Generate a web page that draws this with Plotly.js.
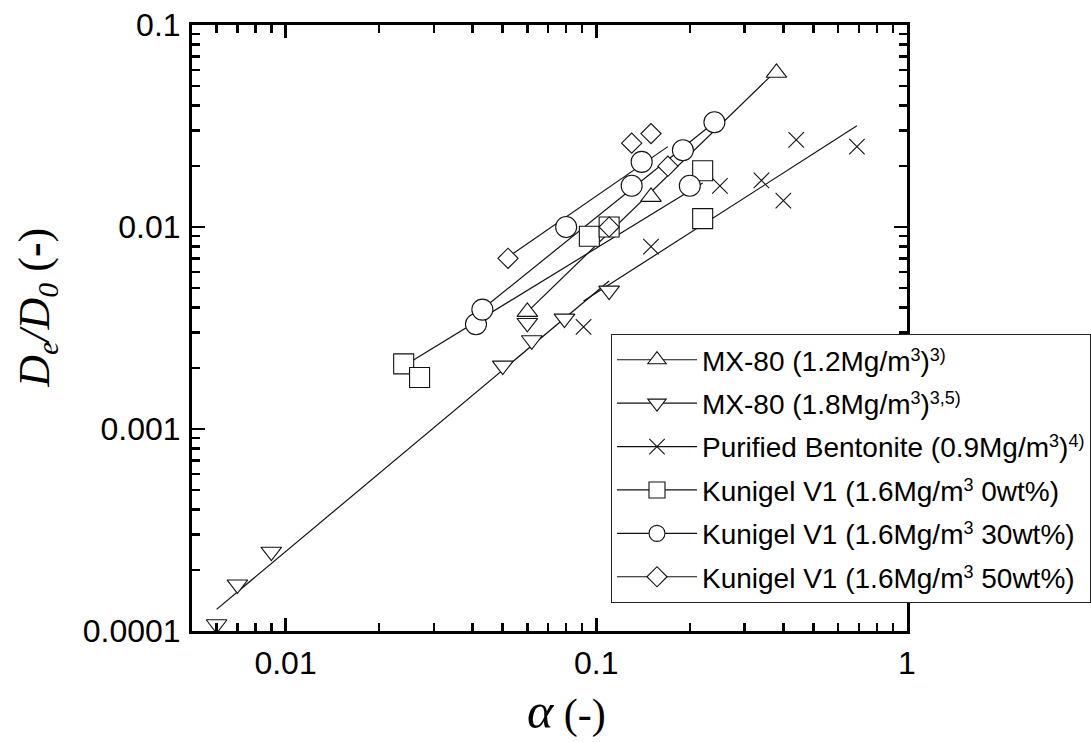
<!DOCTYPE html>
<html>
<head>
<meta charset="utf-8">
<script src="https://cdn.plot.ly/plotly-3.0.1.min.js"></script>
<style>
html, body { margin: 0; padding: 0; background: #ffffff; }
#chart { width: 1091px; height: 742px; }
</style>
</head>
<body>
<div id="chart"></div>
<script>
// ---- Series names (legend); raised small text is drawn with a sized span ----
const SUP = (t) => '<span style="font-size:18px;baseline-shift:10px">' + t + '</span>';
const seriesNames = [
  'MX-80 (1.2Mg/m' + SUP('3') + ')' + SUP('3)'),
  'MX-80 (1.8Mg/m' + SUP('3') + ')' + SUP('3,5)'),
  'Purified Bentonite (0.9Mg/m' + SUP('3') + ')' + SUP('4)'),
  'Kunigel V1 (1.6Mg/m' + SUP('3') + ' 0wt%)',
  'Kunigel V1 (1.6Mg/m' + SUP('3') + ' 30wt%)',
  'Kunigel V1 (1.6Mg/m' + SUP('3') + ' 50wt%)'
];

// ---- MX-80 (1.2 Mg/m3) ----
const mx12X = [0.060, 0.150, 0.380];
const mx12Y = [0.0038, 0.0141, 0.058];
const mx12FitX = [0.060, 0.380];
const mx12FitY = [0.0038, 0.0595];

// ---- MX-80 (1.8 Mg/m3) ----
const mx18X = [0.006, 0.007, 0.009, 0.050, 0.060, 0.062, 0.079, 0.110];
const mx18Y = [0.000108, 0.00017, 0.000247, 0.00206, 0.00335, 0.00275, 0.00352, 0.00484];
const mx18FitX = [0.006, 0.110];
const mx18FitY = [0.000128, 0.0054];

// ---- Purified Bentonite (0.9 Mg/m3) ----
const pbX = [0.091, 0.150, 0.250, 0.340, 0.400, 0.440, 0.690];
const pbY = [0.0032, 0.0080, 0.016, 0.017, 0.0135, 0.027, 0.025];
const pbFitX = [0.091, 0.690];
const pbFitY = [0.0043, 0.0317];

// ---- Kunigel V1 (1.6 Mg/m3, 0 wt%) ----
const k0X = [0.024, 0.027, 0.095, 0.110, 0.220, 0.220];
const k0Y = [0.0021, 0.0018, 0.0090, 0.0100, 0.0190, 0.0110];
const k0FitX = [0.024, 0.220];
const k0FitY = [0.00205, 0.0165];

// ---- Kunigel V1 (1.6 Mg/m3, 30 wt%) ----
const k30X = [0.041, 0.043, 0.080, 0.130, 0.140, 0.190, 0.200, 0.240];
const k30Y = [0.0033, 0.0039, 0.0100, 0.0160, 0.0210, 0.0240, 0.0160, 0.0330];
const k30FitX = [0.041, 0.240];
const k30FitY = [0.0037, 0.0330];

// ---- Kunigel V1 (1.6 Mg/m3, 50 wt%) ----
const k50X = [0.052, 0.110, 0.130, 0.150, 0.170];
const k50Y = [0.0070, 0.0100, 0.0260, 0.0290, 0.0200];
const k50FitX = [0.052, 0.170];
const k50FitY = [0.0071, 0.0250];

// ---- Axis ticks ----
const xTickVals = [0.01, 0.1, 1];
const xTickText = ['0.01', '0.1', '1'];
const xMinorVals = [0.006, 0.007, 0.008, 0.009, 0.02, 0.03, 0.04, 0.05, 0.06, 0.07, 0.08, 0.09,
                    0.2, 0.3, 0.4, 0.5, 0.6, 0.7, 0.8, 0.9];
const yTickVals = [0.0001, 0.001, 0.01, 0.1];
const yTickText = ['0.0001', '0.001', '0.01', '0.1'];
const yMinorVals = [0.0002, 0.0003, 0.0004, 0.0005, 0.0006, 0.0007, 0.0008, 0.0009,
                    0.002, 0.003, 0.004, 0.005, 0.006, 0.007, 0.008, 0.009,
                    0.02, 0.03, 0.04, 0.05, 0.06, 0.07, 0.08, 0.09];

// ---- Styles ----
const markerStyles = [
  {symbol: 'triangle-up', size: 18},
  {symbol: 'triangle-down', size: 18},
  {symbol: 'x-thin', size: 15.5},
  {symbol: 'square', size: 20},
  {symbol: 'circle', size: 21},
  {symbol: 'diamond', size: 15.5}
];
const series = [
  {x: mx12X, y: mx12Y, fx: mx12FitX, fy: mx12FitY},
  {x: mx18X, y: mx18Y, fx: mx18FitX, fy: mx18FitY},
  {x: pbX, y: pbY, fx: pbFitX, fy: pbFitY},
  {x: k0X, y: k0Y, fx: k0FitX, fy: k0FitY},
  {x: k30X, y: k30Y, fx: k30FitX, fy: k30FitY},
  {x: k50X, y: k50Y, fx: k50FitX, fy: k50FitY}
];

const ink = '#111111';
const traces = [];
// fit lines first (under markers)
series.forEach((s, i) => {
  traces.push({
    type: 'scatter', mode: 'lines', x: s.fx, y: s.fy,
    line: {color: ink, width: 1.2}, showlegend: false, hoverinfo: 'skip'
  });
});
// data markers
series.forEach((s, i) => {
  const ms = markerStyles[i];
  traces.push({
    type: 'scatter', mode: 'markers', x: s.x, y: s.y,
    marker: {symbol: ms.symbol, size: ms.size, color: '#ffffff',
             line: {color: ink, width: 1.1}},
    showlegend: false, hoverinfo: 'skip', cliponaxis: false
  });
});
// legend entries (line + symbol)
series.forEach((s, i) => {
  const ms = markerStyles[i];
  traces.push({
    type: 'scatter', mode: 'lines+markers', x: [null], y: [null],
    name: seriesNames[i], legendgroup: 'g' + i,
    line: {color: ink, width: 1.2},
    marker: {symbol: ms.symbol, size: ms.size, color: '#ffffff',
             line: {color: ink, width: 1.1}},
    hoverinfo: 'skip'
  });
});

const sansFont = '"Liberation Sans", Arial, sans-serif';
const serifFont = '"Liberation Serif", "Times New Roman", serif';

const axisCommon = {
  type: 'log',
  showline: true, linewidth: 3, linecolor: '#000000',
  mirror: 'allticks',
  ticks: 'inside', ticklen: 13, tickwidth: 2.5, tickcolor: '#000000',
  tickmode: 'array',
  showgrid: false, zeroline: false,
  automargin: false,
  tickfont: {family: sansFont, size: 32, color: '#000000'}
};

const layout = {
  width: 1091, height: 742,
  margin: {l: 192, r: 184, t: 25, b: 111, pad: 0, autoexpand: false},
  paper_bgcolor: '#ffffff', plot_bgcolor: '#ffffff',
  font: {family: sansFont, color: '#000000'},
  showlegend: true,
  xaxis: Object.assign({}, axisCommon, {
    range: [Math.log10(0.005), 0],
    tickvals: xTickVals, ticktext: xTickText,
    ticklabelstandoff: 2,
    minor: {ticks: 'inside', ticklen: 8, tickwidth: 2.5, tickcolor: '#000000',
            tickmode: 'array', tickvals: xMinorVals, showgrid: false}
  }),
  yaxis: Object.assign({}, axisCommon, {
    range: [-4, -1],
    tickvals: yTickVals, ticktext: yTickText,
    ticklabelstandoff: 2,
    minor: {ticks: 'inside', ticklen: 8, tickwidth: 2.5, tickcolor: '#000000',
            tickmode: 'array', tickvals: yMinorVals, showgrid: false}
  }),
  legend: {
    x: 0.586, y: 0.490, xanchor: 'left', yanchor: 'top',
    bgcolor: '#ffffff', bordercolor: '#222222', borderwidth: 1,
    font: {family: sansFont, size: 28, color: '#000000'},
    tracegroupgap: 4,
    itemwidth: 80,
    traceorder: 'grouped'
  },
  annotations: [
    {
      xref: 'paper', yref: 'paper', x: 0.524, y: -0.181,
      xanchor: 'center', yanchor: 'bottom', showarrow: false,
      text: '<i><span style="font-size:50px">α</span></i> (-)',
      font: {family: serifFont, size: 42, color: '#000000'}
    },
    {
      xref: 'paper', yref: 'paper', x: -0.217, y: 0.533,
      xanchor: 'center', yanchor: 'middle', showarrow: false, textangle: -90,
      text: '<i>D<span style="font-size:30px;baseline-shift:-9px">e</span>/D<span style="font-size:30px;baseline-shift:-9px">0</span></i> (<b>-</b>)',
      font: {family: serifFont, size: 44, color: '#000000'}
    }
  ]
};

Plotly.newPlot('chart', traces, layout, {displayModeBar: false, staticPlot: true});
</script>
</body>
</html>
